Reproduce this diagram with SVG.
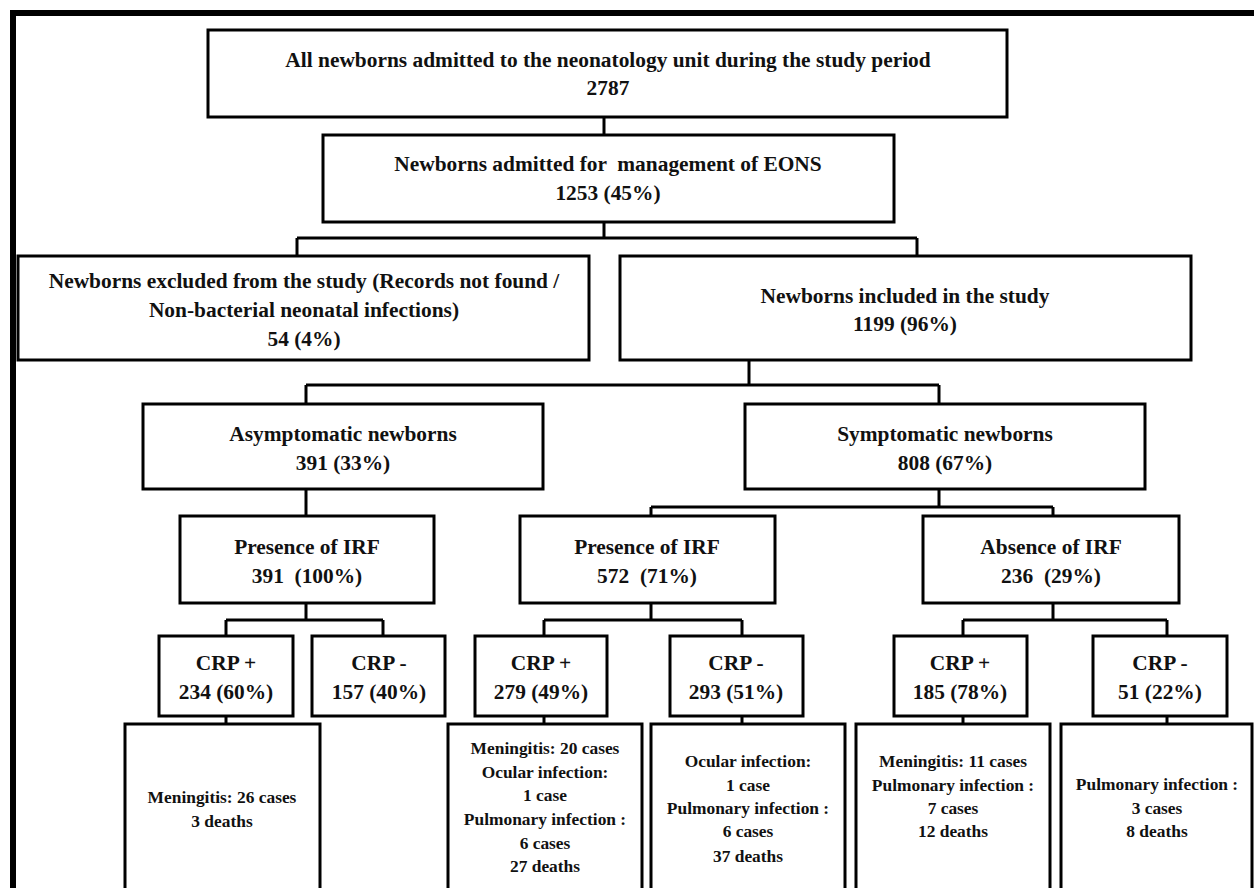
<svg xmlns="http://www.w3.org/2000/svg" width="1254" height="888" viewBox="0 0 1254 888">
<style>
.box{fill:#fff;stroke:#000;stroke-width:3}
.c{fill:none;stroke:#000;stroke-width:3}
text{font-family:"Liberation Serif","Times New Roman",serif;font-weight:bold;fill:#111;text-anchor:middle;white-space:pre}
.t{font-size:21.4px}
.s{font-size:17.4px}
</style>
<rect x="0" y="0" width="1254" height="888" fill="#fff"/>
<path d="M13,888 V13 H1254" fill="none" stroke="#000" stroke-width="6"/>
<g id="connectors">
<path class="c" d="M604,117 V135"/>
<path class="c" d="M604,222 V238 M297,238 H917 M297,238 V256 M917,238 V256"/>
<path class="c" d="M749,360 V385 M306,385 H939 M306,385 V404 M939,385 V404"/>
<path class="c" d="M306,489 V516"/>
<path class="c" d="M939,489 V507 M651,507 H1053 M651,507 V516 M1053,507 V516"/>
<path class="c" d="M306,603 V620 M226,620 H383 M226,620 V636 M383,620 V636"/>
<path class="c" d="M651,603 V620 M544,620 H742 M544,620 V636 M742,620 V636"/>
<path class="c" d="M1053,603 V620 M963,620 H1167 M963,620 V636 M1167,620 V636"/>
<path class="c" d="M226,716 V724 M544,716 V724 M742,716 V724 M963,716 V724 M1167,716 V724"/>
</g>
<g id="n-all"><rect class="box" x="208" y="30" width="799" height="87"/>
<text class="t" x="608" y="67">All newborns admitted to the neonatology unit during the study period</text>
<text class="t" x="608" y="95">2787</text></g>
<g id="n-eons"><rect class="box" x="323" y="135" width="571" height="87"/>
<text class="t" x="608" y="171" xml:space="preserve">Newborns admitted for  management of EONS</text>
<text class="t" x="608" y="200">1253 (45%)</text></g>
<g id="n-excluded"><rect class="box" x="18" y="256" width="571" height="104"/>
<text class="t" x="304" y="288">Newborns excluded from the study (Records not found /</text>
<text class="t" x="304" y="317">Non-bacterial neonatal infections)</text>
<text class="t" x="304" y="346">54 (4%)</text></g>
<g id="n-included"><rect class="box" x="620" y="256" width="571" height="104"/>
<text class="t" x="905" y="303">Newborns included in the study</text>
<text class="t" x="905" y="331">1199 (96%)</text></g>
<g id="n-asym"><rect class="box" x="143" y="404" width="400" height="85"/>
<text class="t" x="343" y="441">Asymptomatic newborns</text>
<text class="t" x="343" y="470">391 (33%)</text></g>
<g id="n-sym"><rect class="box" x="745" y="404" width="400" height="85"/>
<text class="t" x="945" y="441">Symptomatic newborns</text>
<text class="t" x="945" y="470">808 (67%)</text></g>
<g id="n-irf1"><rect class="box" x="180" y="516" width="254" height="87"/>
<text class="t" x="307" y="554">Presence of IRF</text>
<text class="t" x="307" y="583" xml:space="preserve">391  (100%)</text></g>
<g id="n-irf2"><rect class="box" x="520" y="516" width="255" height="87"/>
<text class="t" x="647" y="554">Presence of IRF</text>
<text class="t" x="647" y="583" xml:space="preserve">572  (71%)</text></g>
<g id="n-noirf"><rect class="box" x="923" y="516" width="256" height="87"/>
<text class="t" x="1051" y="554">Absence of IRF</text>
<text class="t" x="1051" y="583" xml:space="preserve">236  (29%)</text></g>
<g id="n-crp1p"><rect class="box" x="159" y="636" width="134" height="80"/>
<text class="t" x="226" y="670">CRP +</text>
<text class="t" x="226" y="699">234 (60%)</text></g>
<g id="n-crp1m"><rect class="box" x="312" y="636" width="133" height="80"/>
<text class="t" x="379" y="670">CRP -</text>
<text class="t" x="379" y="699">157 (40%)</text></g>
<g id="n-crp2p"><rect class="box" x="475" y="636" width="132" height="80"/>
<text class="t" x="541" y="670">CRP +</text>
<text class="t" x="541" y="699">279 (49%)</text></g>
<g id="n-crp2m"><rect class="box" x="670" y="636" width="133" height="80"/>
<text class="t" x="736" y="670">CRP -</text>
<text class="t" x="736" y="699">293 (51%)</text></g>
<g id="n-crp3p"><rect class="box" x="894" y="636" width="133" height="80"/>
<text class="t" x="960" y="670">CRP +</text>
<text class="t" x="960" y="699">185 (78%)</text></g>
<g id="n-crp3m"><rect class="box" x="1093" y="636" width="134" height="80"/>
<text class="t" x="1160" y="670">CRP -</text>
<text class="t" x="1160" y="699">51 (22%)</text></g>
<g id="n-out1"><rect class="box" x="125" y="724" width="195" height="180"/>
<text class="s" x="222" y="803">Meningitis: 26 cases</text>
<text class="s" x="222" y="827">3 deaths</text></g>
<g id="n-out2"><rect class="box" x="448" y="724" width="194" height="180"/>
<text class="s" x="545" y="754">Meningitis: 20 cases</text>
<text class="s" x="545" y="778">Ocular infection:</text>
<text class="s" x="545" y="801">1 case</text>
<text class="s" x="545" y="825">Pulmonary infection :</text>
<text class="s" x="545" y="849">6 cases</text>
<text class="s" x="545" y="872">27 deaths</text></g>
<g id="n-out3"><rect class="box" x="651" y="724" width="194" height="180"/>
<text class="s" x="748" y="767">Ocular infection:</text>
<text class="s" x="748" y="791">1 case</text>
<text class="s" x="748" y="814">Pulmonary infection :</text>
<text class="s" x="748" y="837">6 cases</text>
<text class="s" x="748" y="862">37 deaths</text></g>
<g id="n-out4"><rect class="box" x="856" y="724" width="194" height="180"/>
<text class="s" x="953" y="767">Meningitis: 11 cases</text>
<text class="s" x="953" y="791">Pulmonary infection :</text>
<text class="s" x="953" y="814">7 cases</text>
<text class="s" x="953" y="837">12 deaths</text></g>
<g id="n-out5"><rect class="box" x="1061" y="724" width="191" height="180"/>
<text class="s" x="1157" y="790">Pulmonary infection :</text>
<text class="s" x="1157" y="814">3 cases</text>
<text class="s" x="1157" y="837">8 deaths</text></g>
</svg>
